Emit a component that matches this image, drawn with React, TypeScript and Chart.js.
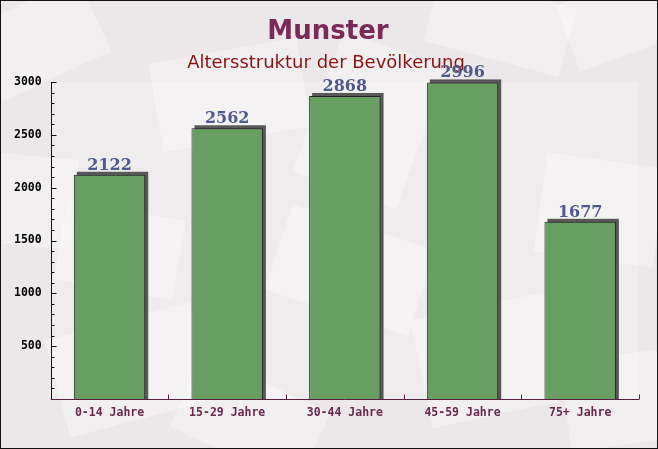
import React, { useEffect, useRef } from "react";
import { Chart, registerables } from "chart.js";

Chart.register(...registerables);

const categories = ["0-14 Jahre", "15-29 Jahre", "30-44 Jahre", "45-59 Jahre", "75+ Jahre"];
const values = [2122, 2562, 2868, 2996, 1677];
const yMin = 0;
const yMax = 3000;
const yStep = 100;
const yLabelStep = 500;
const titleText = "Munster";
const subtitleText = "Altersstruktur der Bevölkerung";

// decorative background "envelopes": [cx, cy, w, h, angleDeg]
const envelopes: number[][] = [
  [40, 40, 120, 80, -25],
  [230, 95, 150, 90, -10],
  [370, 120, 110, 150, 20],
  [500, 25, 140, 70, 15],
  [620, 20, 110, 70, -20],
  [20, 200, 110, 90, 5],
  [600, 210, 120, 100, 8],
  [130, 370, 150, 100, -15],
  [350, 270, 150, 90, 18],
  [490, 360, 140, 110, -12],
  [250, 420, 140, 80, 25],
  [620, 400, 110, 90, -8],
  [120, 250, 120, 80, 10],
];

const bgPlugin = {
  id: "bgPlugin",
  beforeDraw(chart: any) {
    const { ctx, width, height, chartArea } = chart;
    ctx.save();
    ctx.fillStyle = "#ece8ea";
    ctx.fillRect(0, 0, width, height);
    ctx.fillStyle = "rgba(255,255,255,0.32)";
    for (const [cx, cy, w, h, a] of envelopes) {
      ctx.save();
      ctx.translate(cx, cy);
      ctx.rotate((a * Math.PI) / 180);
      ctx.fillRect(-w / 2, -h / 2, w, h);
      ctx.restore();
    }
    ctx.fillStyle = "rgba(255,255,255,0.2)";
    ctx.fillRect(chartArea.left, chartArea.top, chartArea.right - chartArea.left, chartArea.bottom - chartArea.top);
    // border
    ctx.strokeStyle = "#111";
    ctx.lineWidth = 1;
    ctx.strokeRect(0.5, 0.5, width - 1, height - 1);
    // titles
    ctx.textAlign = "center";
    ctx.textBaseline = "alphabetic";
    ctx.fillStyle = "#7a2a55";
    ctx.font = "bold 26px 'DejaVu Sans'";
    ctx.fillText(titleText, 328, 39);
    ctx.fillStyle = "#8b1212";
    ctx.font = "18px 'DejaVu Sans'";
    ctx.fillText(subtitleText, 326, 68);
    ctx.restore();
  },
  beforeDatasetsDraw(chart: any) {
    const { ctx } = chart;
    const meta = chart.getDatasetMeta(0);
    ctx.save();
    ctx.fillStyle = "#585858";
    meta.data.forEach((bar: any) => {
      const w = bar.width;
      ctx.fillRect(bar.x - w / 2 + 3, bar.y - 3, w, bar.base - bar.y + 3);
    });
    ctx.restore();
  },
  afterDatasetsDraw(chart: any) {
    const { ctx, chartArea } = chart;
    const meta = chart.getDatasetMeta(0);
    const ys = chart.scales.y;
    const xs = chart.scales.x;
    ctx.save();
    // labels
    ctx.fillStyle = "#4f5a8e";
    ctx.font = "bold 16px 'DejaVu Serif'";
    ctx.textAlign = "center";
    ctx.textBaseline = "alphabetic";
    meta.data.forEach((bar: any, i: number) => {
      ctx.fillText(String(values[i]), bar.x, bar.y - 5);
    });
    // y axis
    ctx.strokeStyle = "#111";
    ctx.lineWidth = 1;
    const ax = Math.round(chartArea.left) + 0.5;
    ctx.beginPath();
    ctx.moveTo(ax, ys.getPixelForValue(yMax));
    ctx.lineTo(ax, chartArea.bottom);
    for (let v = yMin; v <= yMax; v += yStep) {
      const py = Math.round(ys.getPixelForValue(v)) + 0.5;
      const len = v % yLabelStep === 0 ? 5 : 3;
      ctx.moveTo(ax, py);
      ctx.lineTo(ax + len, py);
    }
    ctx.stroke();
    // x axis
    ctx.strokeStyle = "#5a2040";
    const by = Math.round(chartArea.bottom) + 0.5;
    ctx.beginPath();
    ctx.moveTo(chartArea.left, by);
    ctx.lineTo(chartArea.right, by);
    for (let i = 1; i <= categories.length; i++) {
      const px = Math.round(xs.getPixelForValue(i - 0.5)) + 0.5;
      ctx.moveTo(px, by);
      ctx.lineTo(px, by - 5);
    }
    ctx.stroke();
    ctx.restore();
  },
};

export default function App() {
  const ref = useRef<HTMLCanvasElement | null>(null);
  useEffect(() => {
    document.body.style.margin = "0";
    const canvas = ref.current!;
    const chart = new Chart(canvas, {
      type: "bar",
      data: {
        labels: categories,
        datasets: [
          {
            data: values,
            backgroundColor: "#689e62",
            borderColor: "#222",
            borderWidth: 1,
            barPercentage: 0.607,
            categoryPercentage: 1,
          },
        ],
      },
      options: {
        responsive: false,
        animation: false,
        devicePixelRatio: 1,
        layout: { padding: { top: 82, right: 19, bottom: 0, left: 0 } },
        plugins: {
          legend: { display: false },
          title: { display: false },
          tooltip: { enabled: false },
        },
        scales: {
          x: {
            grid: { display: false, drawTicks: false },
            border: { display: false },
            ticks: {
              color: "#6b2a4d",
              font: { family: "'DejaVu Sans Mono'", size: 11.5, weight: "bold" },
              padding: 7,
              maxRotation: 0,
              autoSkip: false,
            },
            afterFit: (s: any) => {
              s.height = 50;
            },
          },
          y: {
            min: yMin,
            max: yMax,
            grid: { display: false, drawTicks: false },
            border: { display: false },
            ticks: {
              stepSize: yStep,
              autoSkip: false,
              color: "#000",
              font: { family: "'DejaVu Sans Mono'", size: 11.5, weight: "bold" },
              padding: 9,
              callback: (v: any) => (v % yLabelStep === 0 && v > 0 ? String(v) : ""),
            },
            afterFit: (s: any) => {
              s.width = 50.7;
            },
          },
        },
      },
      plugins: [bgPlugin],
    });
    return () => chart.destroy();
  }, []);
  return <canvas ref={ref} width={658} height={449} style={{ display: "block" }} />;
}
